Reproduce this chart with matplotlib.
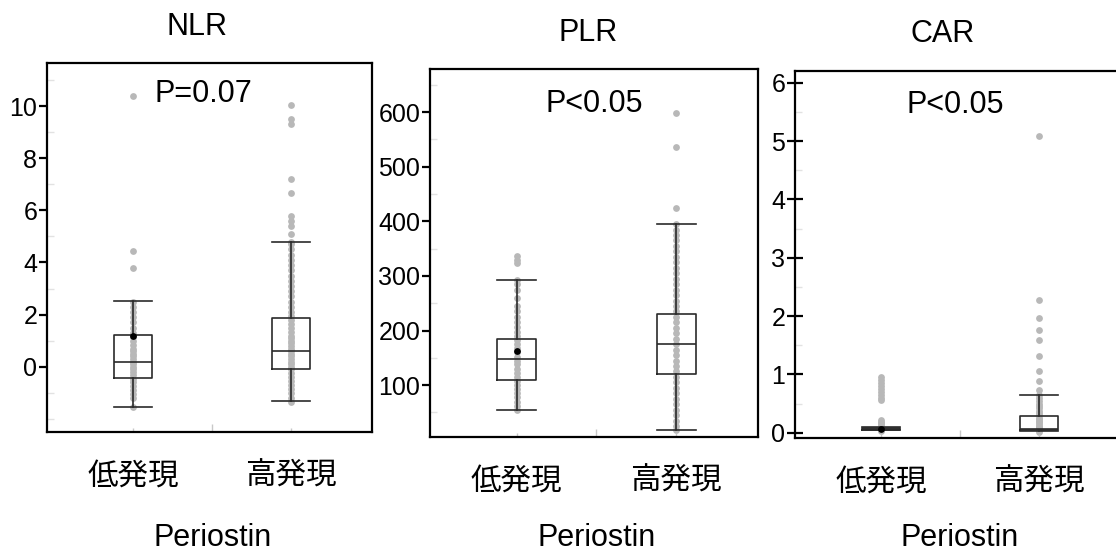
import matplotlib
matplotlib.use('Agg')
import matplotlib.pyplot as plt
from matplotlib.ticker import MultipleLocator, FixedLocator

plt.rcParams['font.family'] = ['Liberation Sans', 'Noto Sans CJK JP', 'DejaVu Sans']

W, H = 1116, 554

groups = ['低発現', '高発現']
titles = ['NLR', 'PLR', 'CAR']
p_texts = ['P=0.07', 'P<0.05', 'P<0.05']

# NLR（各点は図から読み取った値）
nlr_low = [-1.55, -1.2, -1.05, -0.9, -0.75, -0.6, -0.45, -0.3, -0.2, -0.1, 0.0, 0.1,
           0.2, 0.3, 0.4, 0.5, 0.6, 0.7, 0.85, 1.0, 1.15, 1.3, 1.5, 1.7, 1.9, 2.1,
           2.3, 2.5, 3.8, 4.45, 10.4]
nlr_high = [-1.35, -1.2, -1.0, -0.85, -0.7, -0.55, -0.4, -0.25, -0.1, 0.0, 0.1, 0.2,
            0.3, 0.4, 0.5, 0.6, 0.7, 0.8, 0.9, 1.0, 1.1, 1.2, 1.35, 1.5, 1.65, 1.8,
            1.95, 2.1, 2.3, 2.5, 2.7, 2.9, 3.1, 3.3, 3.5, 3.7, 3.9, 4.1, 4.3, 4.5,
            4.7, 4.8, 5.1, 5.4, 5.6, 5.8, 6.65, 7.2, 9.3, 9.5, 10.05]
nlr_q1 = [-0.42, -0.08]
nlr_med = [0.18, 0.60]
nlr_q3 = [1.21, 1.88]
nlr_wlo = [-1.55, -1.30]
nlr_whi = [2.52, 4.80]
nlr_mean = 1.19

# PLR
plr_low = [55, 62, 70, 78, 85, 92, 100, 108, 115, 122, 130, 138, 145, 152, 160, 168,
           175, 182, 190, 198, 206, 215, 225, 235, 245, 260, 275, 285, 292, 324, 330, 337]
plr_high = [17, 25, 35, 45, 55, 65, 75, 85, 95, 105, 115, 125, 135, 145, 155, 165, 175,
            185, 195, 205, 215, 225, 235, 245, 255, 265, 275, 285, 295, 305, 315, 325,
            335, 345, 355, 365, 375, 385, 395, 425, 537, 598]
plr_q1 = [110, 121]
plr_med = [148, 176]
plr_q3 = [185, 231]
plr_wlo = [54, 17]
plr_whi = [293, 396]
plr_mean = 162

# CAR
car_low = [0.03, 0.05, 0.06, 0.07, 0.08, 0.1, 0.13, 0.16, 0.19, 0.22, 0.56, 0.6, 0.65,
           0.7, 0.75, 0.8, 0.85, 0.9, 0.96]
car_high = [0.02, 0.05, 0.08, 0.1, 0.12, 0.15, 0.18, 0.2, 0.23, 0.26, 0.3, 0.34, 0.38,
            0.42, 0.46, 0.5, 0.55, 0.6, 0.65, 0.73, 0.89, 1.06, 1.32, 1.59, 1.76, 1.96,
            2.27, 5.09]
car_q1 = [0.05, 0.05]
car_med = [0.06, 0.06]
car_q3 = [0.08, 0.29]
car_wlo = [0.04, 0.03]
car_whi = [0.09, 0.65]
car_mean = 0.06


def px(x, y):
  return x / W, 1 - y / H


fig = plt.figure(figsize=(W / 100, H / 100), dpi=100)

# 各パネルの位置（ピクセル）: left, top, right, bottom
boxes_px = [(47, 63, 372, 432), (430, 69, 758, 437), (795, 71, 1120, 438)]
axes = []
for l, t, r, b in boxes_px:
  axes.append(fig.add_axes([l / W, 1 - b / H, (r - l) / W, (b - t) / H]))

panels = [
  (nlr_low, nlr_high, nlr_q1, nlr_med, nlr_q3, nlr_wlo, nlr_whi, nlr_mean),
  (plr_low, plr_high, plr_q1, plr_med, plr_q3, plr_wlo, plr_whi, plr_mean),
  (car_low, car_high, car_q1, car_med, car_q3, car_wlo, car_whi, car_mean),
]
ylims = [(-2.5, 11.65), (5, 679), (-0.09, 6.2)]
majors = [[0, 2, 4, 6, 8, 10], [100, 200, 300, 400, 500, 600], [0, 1, 2, 3, 4, 5, 6]]
minors = [1, 50, 0.5]

bw = 0.245
for ax, pan, yl, mj, mn in zip(axes, panels, ylims, majors, minors):
  low, high, q1, med, q3, wlo, whi, mean = pan

  # 生データ（灰色の点）
  ax.scatter([1] * len(low), low, s=24, color='#b8b8b8', lw=0, zorder=1)
  ax.scatter([2] * len(high), high, s=24, color='#b8b8b8', lw=0, zorder=1)

  stats = []
  for i in range(2):
    stats.append({'q1': q1[i], 'med': med[i], 'q3': q3[i],
                  'whislo': wlo[i], 'whishi': whi[i], 'fliers': []})
  lp = dict(color='#2a2a2a', lw=1.2)
  ax.bxp(stats, positions=[1, 2], widths=bw, capwidths=bw, showfliers=False,
         boxprops=lp, whiskerprops=lp, capprops=lp,
         medianprops=dict(color='#2a2a2a', lw=1.2), manage_ticks=False)

  # 平均値（低発現のみ表示）
  ax.scatter([1], [mean], s=24, color='black', zorder=4, lw=0)

  ax.set_xlim(0.456, 2.513)
  ax.set_ylim(*yl)
  ax.set_xticks([1, 2])
  ax.set_xticklabels(groups, fontsize=22)
  ax.xaxis.set_minor_locator(FixedLocator([1.5]))
  ax.tick_params(axis='x', which='major', direction='in', length=3, width=1,
                 color='#c8c8c8', pad=21)
  ax.tick_params(axis='x', which='minor', direction='in', length=6, width=1,
                 color='#c8c8c8')

  ax.yaxis.set_major_locator(FixedLocator(mj))
  ax.yaxis.set_minor_locator(MultipleLocator(mn))
  ax.tick_params(axis='y', which='major', direction='out', length=6, width=1.6,
                 labelsize=18, pad=1)
  ax.tick_params(axis='y', which='minor', direction='in', length=5, width=1,
                 color='#e2e2e2')
  for s in ax.spines.values():
    s.set_linewidth(1.6)

# CAR は目盛りが軸線をまたぐ
axes[2].tick_params(axis='y', which='major', direction='inout', length=12)

title_pos = [(197, 35), (588, 41), (943, 42)]
p_pos = [(203, 102), (594, 112), (955, 113)]
lab_pos = [(213, 546), (597, 546), (960, 546)]
for t, (x, y) in zip(titles, title_pos):
  fig.text(*px(x, y), t, fontsize=22, ha='center', va='baseline')
for t, (x, y) in zip(p_texts, p_pos):
  fig.text(*px(x, y), t, fontsize=22, ha='center', va='baseline')
for x, y in lab_pos:
  fig.text(*px(x, y), 'Periostin', fontsize=22, ha='center', va='baseline')

fig.savefig('out.png', dpi=100)
